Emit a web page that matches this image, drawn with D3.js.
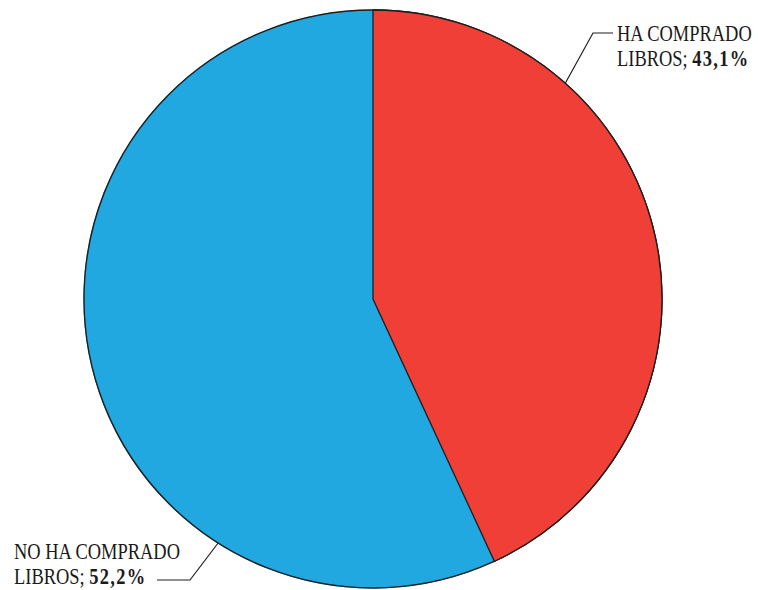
<!DOCTYPE html>
<html>
<head>
<meta charset="utf-8">
<script src="https://cdn.jsdelivr.net/npm/d3@7"></script>
<style>
  html, body { margin: 0; padding: 0; background: #fff; }
  svg { display: block; }
</style>
</head>
<body>
<svg id="chart" width="758" height="590"></svg>
<script>
// Compra de libros: share of respondents
const categories = ["HA COMPRADO LIBROS", "NO HA COMPRADO LIBROS", "NS/NC"];
const values = [43.1, 52.2, 4.7];
const labelLines = [["HA COMPRADO", "LIBROS; "], ["NO HA COMPRADO", "LIBROS; "]];
const valueLabels = ["43,1%", "52,2%"];
const colors = ["#ef3f37", "#22a8e0", "#22a8e0"];

const svg = d3.select("#chart");
const cx = 373, cy = 299, r = 289;
const g = svg.append("g").attr("transform", `translate(${cx},${cy})`);

const data = categories.map((c, i) => ({ name: c, value: values[i], color: colors[i] }));
const pie = d3.pie().sort(null).value(d => d.value);
const arcs = pie(data);
const arc = d3.arc().innerRadius(0).outerRadius(r);

// Slice fills (same-colour neighbours are stroked in their fill so no seam shows)
g.selectAll("path.slice")
  .data(arcs)
  .enter().append("path")
  .attr("class", "slice")
  .attr("d", arc)
  .attr("fill", d => d.data.color)
  .attr("stroke", d => d.data.color)
  .attr("stroke-width", 1.2);

// Outline of the whole disc
g.append("circle")
  .attr("r", r)
  .attr("fill", "none")
  .attr("stroke", "#1f1f1f")
  .attr("stroke-width", 1.4);

// Purchased slice drawn on top with its dark edges
g.append("path")
  .attr("d", arc(arcs[0]))
  .attr("fill", arcs[0].data.color)
  .attr("stroke", "#1f1f1f")
  .attr("stroke-width", 1.3)
  .attr("stroke-linejoin", "miter");

// Leader lines, each from the rim outward
function rimPoint(angleDeg) {
  const a = angleDeg * Math.PI / 180;
  return [cx + r * Math.sin(a), cy - r * Math.cos(a)];
}
const leaders = [
  { from: rimPoint(41.7), elbow: [593, 33], end: [613, 33] },
  { from: rimPoint(212.4), elbow: [190, 580], end: [157, 580] }
];
svg.selectAll("path.leader")
  .data(leaders)
  .enter().append("path")
  .attr("class", "leader")
  .attr("d", d => d3.line()([d.from, d.elbow, d.end]))
  .attr("fill", "none")
  .attr("stroke", "#1f1f1f")
  .attr("stroke-width", 1.2);

// Labels
const labelPos = [{ x: 617, y: 41 }, { x: 14, y: 559 }];
const fontFamily = "'Liberation Serif', 'DejaVu Serif', serif";
labelPos.forEach((p, i) => {
  const t = svg.append("g")
    .attr("transform", `translate(${p.x},${p.y}) scale(0.82,1)`);
  t.append("text")
    .attr("x", 0).attr("y", 0)
    .attr("font-family", fontFamily)
    .attr("font-size", 22.5)
    .attr("fill", "#1a1a1a")
    .text(labelLines[i][0]);
  const l2 = t.append("text")
    .attr("x", 0).attr("y", 25)
    .attr("font-family", fontFamily)
    .attr("font-size", 22.5)
    .attr("fill", "#1a1a1a");
  l2.append("tspan").text(labelLines[i][1]);
  l2.append("tspan")
    .attr("font-weight", "bold")
    .attr("letter-spacing", 1.6)
    .text(valueLabels[i]);
});
</script>
</body>
</html>
